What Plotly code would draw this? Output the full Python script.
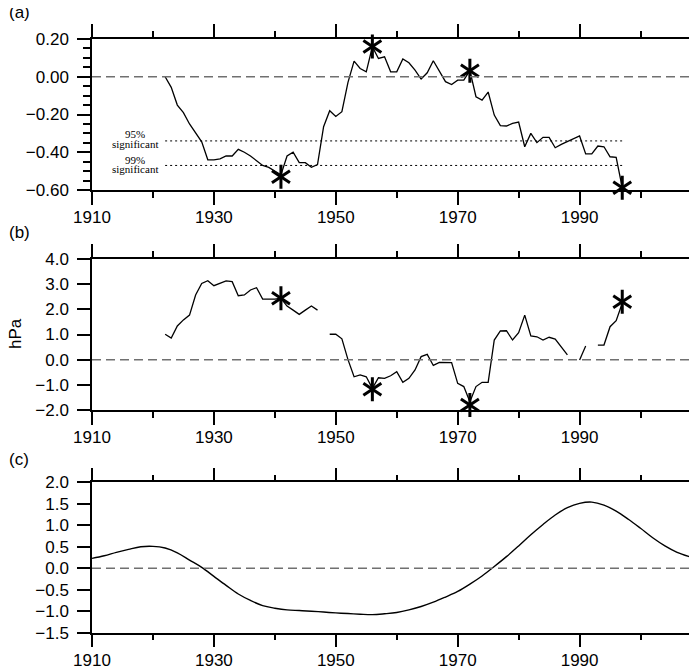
import plotly.graph_objects as go

# (a) running correlation
years_a = list(range(1922, 1998))
corr_a = [0.00, -0.056, -0.15, -0.19, -0.25, -0.30, -0.345, -0.44, -0.44, -0.435,
          -0.42, -0.42, -0.385, -0.40, -0.42, -0.445, -0.47, -0.48, -0.50, -0.52,
          -0.42, -0.40, -0.455, -0.455, -0.48, -0.465, -0.265, -0.18, -0.21, -0.185,
          -0.03, 0.083, 0.044, 0.026, 0.159, 0.097, 0.106, 0.026, 0.026, 0.094,
          0.074, 0.035, -0.012, 0.021, 0.085, 0.026, -0.026, -0.041, -0.018, -0.018,
          0.032, -0.106, -0.124, -0.081, -0.203, -0.259, -0.261, -0.247, -0.24, -0.371,
          -0.30, -0.349, -0.321, -0.321, -0.376, -0.358, -0.342, -0.328, -0.314, -0.409,
          -0.409, -0.367, -0.371, -0.424, -0.427, -0.588]
sig95 = -0.34
sig99 = -0.47
star_years = [1941, 1956, 1972, 1997]
star_a = [-0.53, 0.16, 0.032, -0.588]

# (b) pressure difference, hPa (gaps = missing years)
years_b = list(range(1922, 1998))
slp_b = [1.01, 0.86, 1.34, 1.58, 1.77, 2.57, 3.03, 3.14, 2.94, 3.03,
         3.13, 3.10, 2.54, 2.57, 2.77, 2.86, 2.41, 2.41, 2.41, 2.44,
         2.13, 1.97, 1.80, 1.97, 2.13, 1.97, None, 1.01, 1.01, 0.83,
         0.00, -0.68, -0.61, -0.68, -1.14, -0.72, -0.74, -0.64, -0.48, -0.90,
         -0.74, -0.41, 0.12, 0.21, -0.23, -0.11, -0.11, -0.12, -0.94, -1.07,
         -1.67, -1.07, -0.90, -0.90, 0.78, 1.14, 1.15, 0.78, 1.07, 1.77,
         0.94, 0.91, 0.78, 0.89, 0.82, 0.52, 0.19, None, -0.01, 0.54,
         None, 0.58, 0.58, 1.31, 1.55, 2.24]
star_b = [2.44, -1.18, -1.80, 2.30]

# (c) low-frequency fit
years_c = [1910, 1912, 1914, 1916, 1918, 1920, 1922, 1924, 1926, 1928,
           1930, 1932, 1934, 1936, 1938, 1940, 1942, 1944, 1946, 1948,
           1950, 1952, 1954, 1956, 1958, 1960, 1962, 1964, 1966, 1968,
           1970, 1972, 1974, 1976, 1978, 1980, 1982, 1984, 1986, 1988,
           1990, 1992, 1994, 1996, 1998, 2000, 2002, 2004, 2006, 2008, 2009]
fit_c = [0.23, 0.29, 0.37, 0.44, 0.50, 0.51, 0.47, 0.36, 0.19, 0.02,
         -0.19, -0.40, -0.60, -0.75, -0.87, -0.93, -0.97, -0.985, -1.00, -1.02,
         -1.04, -1.055, -1.07, -1.08, -1.06, -1.03, -0.97, -0.89, -0.79, -0.67,
         -0.54, -0.37, -0.18, 0.04, 0.27, 0.52, 0.78, 1.02, 1.24, 1.41,
         1.51, 1.54, 1.47, 1.33, 1.14, 0.93, 0.71, 0.52, 0.37, 0.27, 0.23]

FONT = "Liberation Sans, Arial, sans-serif"
line_style = dict(color="black", width=1.3)

# the page puts the figure 8px in from the top-left corner, so size it to fit the window
W, H = 689, 659
L = 84

fig = go.Figure()


def add_stars(ys, xa, ya):
    for sym in ["y-up-open", "y-down-open"]:
        fig.add_trace(go.Scatter(x=star_years, y=ys, mode="markers", xaxis=xa, yaxis=ya,
                                 cliponaxis=False,
                                 marker=dict(symbol=sym, size=15, color="black",
                                             line=dict(color="black", width=3)),
                                 hoverinfo="skip"))


# panel a
fig.add_trace(go.Scatter(x=[years_a[0], years_a[-1]], y=[sig95, sig95], mode="lines",
                         line=dict(color="black", width=1, dash="2px,3px"), xaxis="x", yaxis="y"))
fig.add_trace(go.Scatter(x=[years_a[0], years_a[-1]], y=[sig99, sig99], mode="lines",
                         line=dict(color="black", width=1, dash="2px,3px"), xaxis="x", yaxis="y"))
fig.add_trace(go.Scatter(x=years_a, y=corr_a, mode="lines", line=line_style, xaxis="x", yaxis="y"))
add_stars(star_a, "x", "y")

# panel b
fig.add_trace(go.Scatter(x=years_b, y=slp_b, mode="lines", line=line_style, connectgaps=False,
                         xaxis="x2", yaxis="y2"))
add_stars(star_b, "x2", "y2")

# panel c
fig.add_trace(go.Scatter(x=years_c, y=fit_c, mode="lines", line=dict(color="black", width=1.4, shape="spline"),
                         xaxis="x3", yaxis="y3"))

xcommon = dict(range=[1910, 2009.1], tick0=1910, dtick=20, ticks="outside", ticklen=13, tickwidth=1.5,
               tickcolor="black", minor=dict(dtick=10, tick0=1910, ticks="outside", ticklen=6,
                                             tickwidth=1.5, tickcolor="black"),
               showline=True, linewidth=1.5, linecolor="black", mirror="ticks",
               showgrid=False, zeroline=False, automargin=False, ticklabelstandoff=-2,
               tickfont=dict(size=17, family=FONT, color="black"), domain=[0, 1])
ycommon = dict(ticks="outside", ticklen=13, tickwidth=1.5, tickcolor="black",
               showline=True, linewidth=1.5, linecolor="black", mirror=True,
               showgrid=False, zeroline=False, ticklabelstandoff=5, automargin=False,
               tickfont=dict(size=17, family=FONT, color="black"))


def dom(top, bottom):
    return [(H - bottom) / H, (H - top) / H]


fig.update_layout(
    width=W, height=H,
    margin=dict(l=L, r=1, t=0, b=0, autoexpand=False),
    paper_bgcolor="white", plot_bgcolor="white",
    showlegend=False,
    xaxis=dict(xcommon, anchor="y"),
    xaxis2=dict(xcommon, anchor="y2"),
    xaxis3=dict(xcommon, anchor="y3"),
    yaxis=dict(ycommon, anchor="x", domain=dom(31, 182), range=[-0.6001, 0.2001],
               tick0=0, dtick=0.2, tickformat=".2f",
               minor=dict(dtick=0.05, tick0=0, ticks="outside", ticklen=7, tickwidth=1.5,
                          tickcolor="black")),
    yaxis2=dict(ycommon, anchor="x2", domain=dom(251, 402), range=[-2.001, 4.001],
                tick0=0, dtick=1, tickformat=".1f"),
    yaxis3=dict(ycommon, anchor="x3", domain=dom(474.3, 624.7), range=[-1.5005, 2.0005],
                tick0=0, dtick=0.5, tickformat=".1f"),
)

# dashed zero lines
for xr, yr in [("x domain", "y"), ("x2 domain", "y2"), ("x3 domain", "y3")]:
    fig.add_shape(type="line", xref=xr, yref=yr, x0=0, x1=1, y0=0, y1=0,
                  line=dict(color="#707070", width=1.5, dash="9px,5px"))

# panel labels
for txt, ypix in [("(a)", 5), ("(b)", 224), ("(c)", 451)]:
    fig.add_annotation(text=txt, xref="paper", yref="paper", x=-L / 604, y=1 - ypix / H,
                       xanchor="left", yanchor="middle", showarrow=False, borderpad=0,
                       font=dict(size=17, family=FONT, color="black"))

fig.add_annotation(text="hPa", xref="paper", yref="paper", x=(7 - L) / 604, y=1 - 325 / H,
                   textangle=-90, xanchor="center", yanchor="middle", showarrow=False,
                   font=dict(size=17, family=FONT, color="black"))

# significance labels
SERIF = "Liberation Serif, Times New Roman, serif"
for lvl, pct, up, down in [(sig95, "95%", 7, -3), (sig99, "99%", 5, -4)]:
    fig.add_annotation(text=pct, xref="paper", yref="y", x=0.072, y=lvl, yshift=up,
                       xanchor="center", yanchor="middle", showarrow=False, borderpad=0,
                       font=dict(size=11, family=SERIF, color="black"))
    fig.add_annotation(text="significant", xref="paper", yref="y", x=0.072, y=lvl, yshift=down,
                       xanchor="center", yanchor="middle", showarrow=False, borderpad=0,
                       font=dict(size=11, family=SERIF, color="black"))

fig.write_html("out.html")
